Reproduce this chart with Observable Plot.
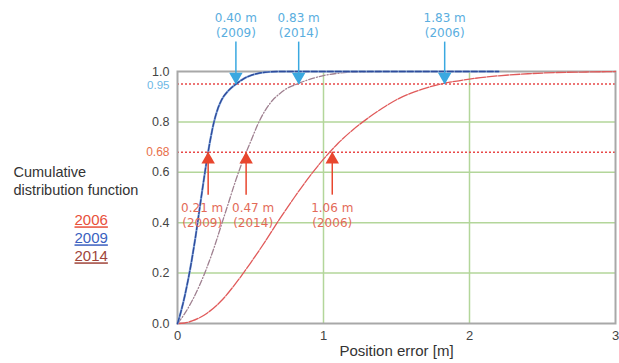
<!DOCTYPE html>
<html>
<head>
<meta charset="utf-8">
<script src="https://cdn.jsdelivr.net/npm/d3@7"></script>
<script src="https://cdn.jsdelivr.net/npm/@observablehq/plot@0.6"></script>
<style>
  html, body { margin: 0; padding: 0; background: #fff; }
</style>
</head>
<body>
<div id="chart"></div>
<script>
// ---- data ----
const x2006 = [0, 0.05, 0.1, 0.2, 0.3, 0.4, 0.5, 0.6, 0.7, 0.8, 0.9, 1.0, 1.1, 1.2, 1.3, 1.4, 1.5, 1.6, 1.7, 1.8, 1.9, 2.0, 2.2, 2.4, 2.6, 2.8, 3.0];
const y2006 = [0, 0.002, 0.01, 0.04, 0.09, 0.16, 0.24, 0.325, 0.415, 0.5, 0.58, 0.652, 0.715, 0.768, 0.813, 0.853, 0.888, 0.914, 0.934, 0.95, 0.961, 0.97, 0.983, 0.991, 0.996, 0.998, 1.0];

const x2009 = [0, 0.025, 0.05, 0.075, 0.1, 0.125, 0.15, 0.175, 0.2, 0.225, 0.25, 0.275, 0.3, 0.35, 0.4, 0.45, 0.5, 0.55, 0.6, 0.7, 2.2];
const y2009 = [0, 0.05, 0.11, 0.18, 0.26, 0.35, 0.45, 0.55, 0.645, 0.73, 0.8, 0.85, 0.885, 0.925, 0.95, 0.97, 0.984, 0.992, 0.997, 1.0, 1.0];

const x2014 = [0, 0.05, 0.1, 0.15, 0.2, 0.25, 0.3, 0.35, 0.4, 0.45, 0.5, 0.55, 0.6, 0.65, 0.7, 0.75, 0.8, 0.9, 1.0, 1.1, 1.2, 1.4];
const y2014 = [0, 0.04, 0.09, 0.15, 0.22, 0.3, 0.39, 0.48, 0.57, 0.65, 0.72, 0.79, 0.845, 0.885, 0.912, 0.933, 0.946, 0.968, 0.984, 0.993, 0.998, 1.0];

const years = ["2006", "2009", "2014"];
const yearColors = ["#e8503a", "#3a5fc0", "#a0453a"];
const yTitle = ["Cumulative", "distribution function"];
const xTitle = "Position error [m]";

// annotation values (95% and 68% levels)
const levels = [0.95, 0.68];
const p95 = [{v: 0.40, yr: "2009"}, {v: 0.83, yr: "2014"}, {v: 1.83, yr: "2006"}];
const p68 = [{v: 0.21, yr: "2009"}, {v: 0.47, yr: "2014"}, {v: 1.06, yr: "2006"}];

const yTicks = [0, 0.2, 0.4, 0.6, 0.8, 1.0];
const xTicks = [0, 1, 2, 3];
const gridY = [0.2, 0.4, 0.6, 0.8];
const gridX = [1, 2];

const toRows = (xs, ys) => xs.map((x, i) => ({x, y: ys[i]}));
const d2006 = toRows(x2006, y2006);
const d2009 = toRows(x2009, y2009);
const d2014 = toRows(x2014, y2014);

const blueText = "#5aaee0";
const blueArrow = "#3aa8e0";
const redText = "#e36a58";
const redArrow = "#e8462e";
const annFont = "DejaVu Sans";
const annSize = 12;

const p68Text = (rows, dx) => [
  Plot.text(rows, {x: "v", y: () => levels[1], dx, dy: 56, text: d => d.v.toFixed(2) + " m", fill: redText, fontSize: annSize, fontFamily: annFont}),
  Plot.text(rows, {x: "v", y: () => levels[1], dx, dy: 71, text: d => "(" + d.yr + ")", fill: redText, fontSize: annSize, fontFamily: annFont})
];

const chart = Plot.plot({
  width: 619,
  height: 363,
  marginLeft: 177,
  marginRight: 4,
  marginTop: 71,
  marginBottom: 40,
  style: {fontFamily: "Liberation Sans, Arial, sans-serif", fontSize: "12px", background: "#fff", color: "#444"},
  x: {domain: [0, 3]},
  y: {domain: [0, 1]},
  marks: [
    Plot.ruleY(gridY, {stroke: "#b3d69a", strokeWidth: 1.5}),
    Plot.ruleX(gridX, {stroke: "#b3d69a", strokeWidth: 1.5}),
    Plot.ruleY(levels, {stroke: "#e84848", strokeWidth: 1.5, strokeDasharray: "2,2"}),
    Plot.frame({stroke: "#a8a8a8", strokeWidth: 2}),
    Plot.axisY({ticks: yTicks, tickSize: 0, tickPadding: 8, tickFormat: d3.format(".1f"), label: null, fontSize: 12.5, fill: "#444"}),
    Plot.axisX({ticks: xTicks, tickSize: 0, tickPadding: 7, tickFormat: d3.format("d"), label: null, fontSize: 13, fill: "#444"}),
    Plot.text([levels[0]], {y: d => d, frameAnchor: "left", dx: -8, dy: 1, textAnchor: "end", text: d => d.toFixed(2), fill: "#6cb8e6", fontSize: 11.5}),
    Plot.text([levels[1]], {y: d => d, frameAnchor: "left", dx: -8, textAnchor: "end", text: d => d.toFixed(2), fill: "#e8704a", fontSize: 12}),
    // curves
    Plot.line(d2014, {x: "x", y: "y", stroke: "#9f8090", strokeWidth: 1.3, strokeDasharray: "6,2,1,2", curve: "monotone-x"}),
    Plot.line(d2006, {x: "x", y: "y", stroke: "#e05a5a", strokeWidth: 1.3, strokeDasharray: "10,1.5", curve: "monotone-x"}),
    Plot.line(d2009, {x: "x", y: "y", stroke: "#8fb0e0", strokeWidth: 2.2, curve: "monotone-x"}),
    Plot.line(d2009, {x: "x", y: "y", stroke: "#2e4c9c", strokeWidth: 1.4, strokeDasharray: "6,2", curve: "monotone-x"}),
    // 95% arrows (pointing down)
    Plot.ruleX(p95, {x: "v", y1: () => levels[0], y2: () => levels[0], insetTop: -42, stroke: blueArrow, strokeWidth: 1.5}),
    Plot.dot(p95, {x: "v", y: () => levels[0], dy: -7.5, symbol: "triangle", rotate: 180, r: 5, fill: blueArrow, stroke: "none"}),
    Plot.text(p95, {x: "v", y: () => levels[0], dy: -66, text: d => d.v.toFixed(2) + " m", fill: blueText, fontSize: annSize, fontFamily: annFont}),
    Plot.text(p95, {x: "v", y: () => levels[0], dy: -51, text: d => "(" + d.yr + ")", fill: blueText, fontSize: annSize, fontFamily: annFont}),
    // 68% arrows (pointing up)
    Plot.ruleX(p68, {x: "v", y1: () => levels[1], y2: () => levels[1], insetBottom: -43, stroke: redArrow, strokeWidth: 1.5}),
    Plot.dot(p68, {x: "v", y: () => levels[1], dy: 7.5, symbol: "triangle", r: 5, fill: redArrow, stroke: "none"}),
    ...p68Text(p68.slice(0, 1), -6),
    ...p68Text(p68.slice(1, 2), 7),
    ...p68Text(p68.slice(2), 0),
    // titles
    Plot.text([xTitle], {frameAnchor: "bottom", dy: 32, text: d => d, fontSize: 15, fill: "#333"}),
    Plot.text([yTitle[0]], {frameAnchor: "left", dx: -164, dy: -25, text: d => d, textAnchor: "start", fontSize: 14.5, fill: "#333"}),
    Plot.text([yTitle[1]], {frameAnchor: "left", dx: -164, dy: -7, text: d => d, textAnchor: "start", fontSize: 14.5, fill: "#333"}),
    Plot.text([years[0]], {frameAnchor: "left", dx: -103, dy: 23, text: d => d, fill: yearColors[0], fontSize: 15}),
    Plot.text([years[1]], {frameAnchor: "left", dx: -103, dy: 41, text: d => d, fill: yearColors[1], fontSize: 15}),
    Plot.text([years[2]], {frameAnchor: "left", dx: -103, dy: 59, text: d => d, fill: yearColors[2], fontSize: 15})
  ]
});

// underline the legend entries
d3.select(chart).selectAll("text").filter(function() {
  return years.includes(this.textContent) && this.childElementCount === 0 && !this.closest('[aria-label="x-axis tick label"]');
}).style("text-decoration", "underline");

document.getElementById("chart").appendChild(chart);
</script>
</body>
</html>
